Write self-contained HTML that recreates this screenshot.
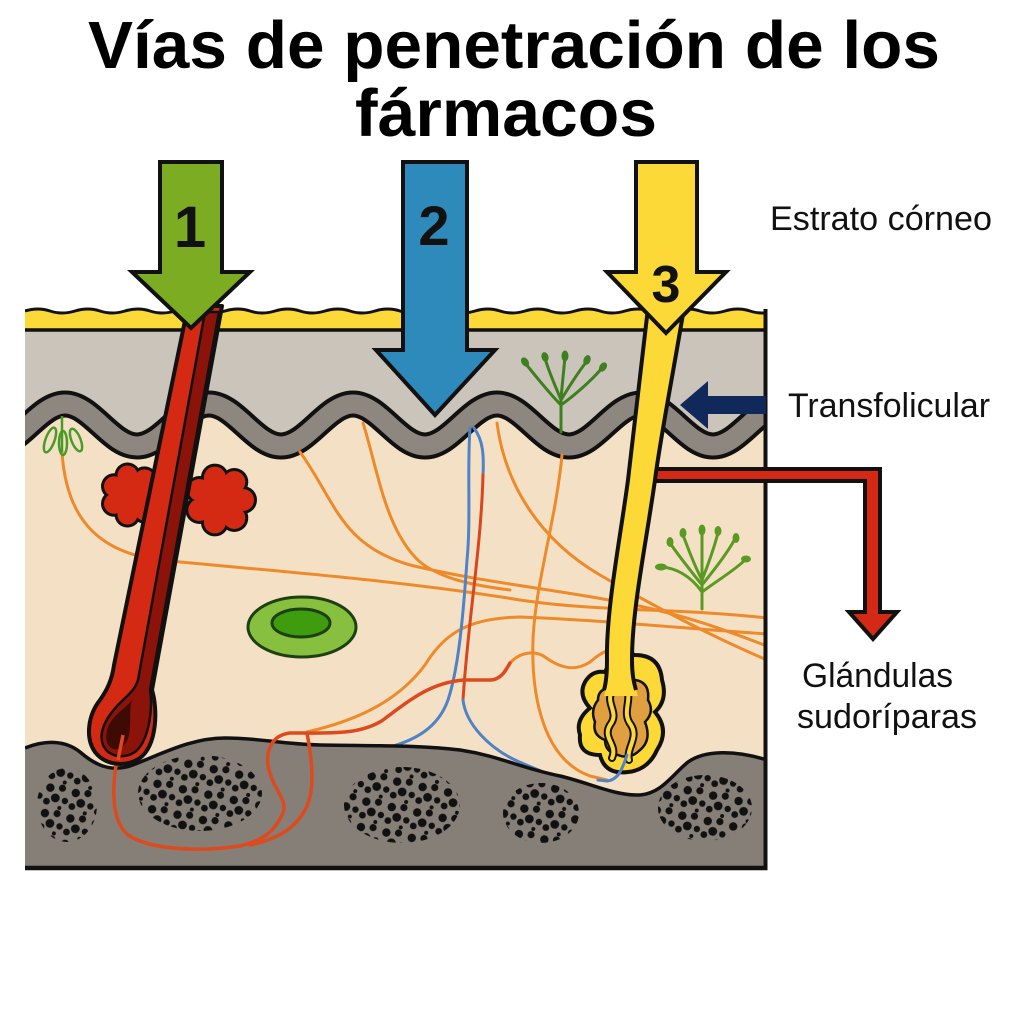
<!DOCTYPE html>
<html><head><meta charset="utf-8"><style>
html,body{margin:0;padding:0;background:#fff;}
svg{display:block;}
text{font-family:"Liberation Sans",Arial,sans-serif;}
</style></head><body>
<svg width="1024" height="1024" viewBox="0 0 1024 1024" xmlns="http://www.w3.org/2000/svg">
<defs>
<clipPath id="box"><rect x="25" y="300" width="742" height="570"/></clipPath>
<pattern id="dots" width="26" height="26" patternUnits="userSpaceOnUse" patternTransform="rotate(12)">
<circle cx="5" cy="6" r="4.2" fill="#111"/><circle cx="17" cy="4" r="3.6" fill="#111"/>
<circle cx="12" cy="15" r="4.4" fill="#111"/><circle cx="22" cy="16" r="3.2" fill="#111"/>
<circle cx="4" cy="20" r="3.4" fill="#111"/><circle cx="18" cy="24" r="2" fill="#111"/>
</pattern>
</defs>
<rect width="1024" height="1024" fill="#fff"/>

<!-- Title -->
<text x="514" y="68" font-size="67" font-weight="bold" text-anchor="middle" textLength="852" lengthAdjust="spacingAndGlyphs">Vías de penetración de los</text>
<text x="506" y="136" font-size="67" font-weight="bold" text-anchor="middle" textLength="302" lengthAdjust="spacingAndGlyphs">fármacos</text>

<g clip-path="url(#box)">
<rect x="25" y="326" width="742" height="550" fill="#f4e1c5"/>
<rect x="25" y="328" width="742" height="135" fill="#cbc4bb"/>
<path d="M -7 446 C 19 446 39 404 65 404 C 91 404 111 446 137 446 C 163 446 183 404 209 404 C 235 404 255 446 281 446 C 307 446 327 404 353 404 C 379 404 399 446 425 446 C 451 446 471 404 497 404 C 523 404 543 446 569 446 C 595 446 615 404 641 404 C 667 404 687 446 713 446 C 739 446 759 404 785 404 L 785 880 L -7 880 Z" fill="#f4e1c5"/>
<g fill="none">
<path d="M -7 446 C 19 446 39 404 65 404 C 91 404 111 446 137 446 C 163 446 183 404 209 404 C 235 404 255 446 281 446 C 307 446 327 404 353 404 C 379 404 399 446 425 446 C 451 446 471 404 497 404 C 523 404 543 446 569 446 C 595 446 615 404 641 404 C 667 404 687 446 713 446 C 739 446 759 404 785 404" stroke="#111" stroke-width="27"/>
<path d="M -7 446 C 19 446 39 404 65 404 C 91 404 111 446 137 446 C 163 446 183 404 209 404 C 235 404 255 446 281 446 C 307 446 327 404 353 404 C 379 404 399 446 425 446 C 451 446 471 404 497 404 C 523 404 543 446 569 446 C 595 446 615 404 641 404 C 667 404 687 446 713 446 C 739 446 759 404 785 404" stroke="#8d877f" stroke-width="19"/>
</g>

<!-- orange nerve lines -->
<g fill="none" stroke="#ee8a2a" stroke-width="3" stroke-linecap="round">
<path d="M 62 452 C 66 515, 95 552, 160 560 C 260 570, 400 580, 520 600 C 600 612, 680 608, 767 618"/>
<path d="M 300 452 C 335 500, 340 545, 410 565 C 480 582, 560 590, 625 603 C 690 616, 730 632, 767 646"/>
<path d="M 363 423 C 378 470, 385 530, 420 562 C 440 578, 470 585, 510 590"/>
<path d="M 497 423 C 505 485, 540 540, 600 575 C 660 610, 720 640, 767 660"/>
<path d="M 562 455 C 556 520, 535 585, 533 640 C 531 700, 545 760, 590 776 L 607 780"/>
<path d="M 307 732 C 350 722, 395 705, 425 665 C 445 632, 470 618, 520 617 C 600 620, 680 628, 767 634"/>
<path d="M 510 663 C 520 652, 535 650, 545 657 C 560 668, 575 672, 590 662 C 596 657, 602 652, 610 650"/>
</g>
<!-- blue / red vessels -->
<g fill="none" stroke-width="3" stroke-linecap="round">
<path d="M 470 428 C 467 470, 471 520, 467 560 C 463 620, 458 670, 448 700 C 438 728, 415 740, 390 747" stroke="#4f82c6"/>
<path d="M 474 428 C 483 440, 484 455, 483 475" stroke="#4f82c6"/>
<path d="M 483 475 C 481 550, 468 620, 463 700" stroke="#d9461e"/>
<path d="M 463 700 C 466 725, 490 748, 515 760 C 530 767, 540 770, 545 773" stroke="#4f82c6"/>
</g>

<!-- green plants -->
<g fill="none" stroke="#3f7f1f" stroke-width="3" stroke-linecap="round">
<path d="M 561 432 L 561 398"/>
<path d="M 561 405 C 548 392, 535 375, 525 363"/>
<path d="M 561 400 C 555 385, 548 370, 545 358"/>
<path d="M 561 398 L 565 357"/>
<path d="M 561 400 C 570 385, 580 370, 587 361"/>
<path d="M 561 405 C 575 395, 592 380, 602 368"/>
</g>
<g fill="#3f7f1f">
<ellipse cx="525" cy="362" rx="3.5" ry="5" transform="rotate(-35 525 362)"/>
<ellipse cx="545" cy="357" rx="3.5" ry="5" transform="rotate(-15 545 357)"/>
<ellipse cx="565" cy="356" rx="3.5" ry="5.5"/>
<ellipse cx="587" cy="360" rx="3.5" ry="5" transform="rotate(20 587 360)"/>
<ellipse cx="603" cy="367" rx="3.5" ry="5" transform="rotate(35 603 367)"/>
</g>
<g fill="none" stroke="#5a9a23" stroke-width="3" stroke-linecap="round">
<path d="M 702 609 L 702 532"/>
<path d="M 702 592 C 690 575, 675 568, 662 567"/>
<path d="M 702 585 C 690 570, 678 555, 670 543"/>
<path d="M 702 580 C 694 565, 688 548, 683 535"/>
<path d="M 702 580 C 708 565, 714 548, 718 533"/>
<path d="M 702 585 C 714 570, 726 555, 735 539"/>
<path d="M 702 592 C 718 580, 735 570, 745 560"/>
</g>
<g fill="#5a9a23">
<ellipse cx="661" cy="567" rx="6" ry="3.5"/>
<ellipse cx="670" cy="542" rx="3.5" ry="5"/>
<ellipse cx="683" cy="533" rx="3.5" ry="5"/>
<ellipse cx="702" cy="530" rx="3.5" ry="5.5"/>
<ellipse cx="718" cy="531" rx="3.5" ry="5"/>
<ellipse cx="736" cy="538" rx="3.5" ry="5"/>
<ellipse cx="746" cy="559" rx="5" ry="3.5"/>
</g>
<g fill="none" stroke="#4a9a28" stroke-width="2.5">
<path d="M 62 416 L 62 452"/>
<ellipse cx="50" cy="440" rx="4.5" ry="13" transform="rotate(20 50 440)"/>
<ellipse cx="63" cy="443" rx="4" ry="12"/>
<ellipse cx="76" cy="440" rx="4.5" ry="12" transform="rotate(-22 76 440)"/>
</g>

<!-- hypodermis -->
<path d="M 25 748 C 45 740, 65 740, 80 752 C 95 765, 110 772, 130 766 C 160 755, 190 738, 225 738 C 260 738, 280 744, 320 745 C 380 746, 420 745, 460 750 C 500 756, 520 768, 560 776 C 590 783, 615 796, 640 795 C 662 793, 672 775, 688 762 C 705 750, 735 750, 767 760 L 767 875 L 25 875 Z" fill="#857f78"/>
<path d="M 25 748 C 45 740, 65 740, 80 752 C 95 765, 110 772, 130 766 C 160 755, 190 738, 225 738 C 260 738, 280 744, 320 745 C 380 746, 420 745, 460 750 C 500 756, 520 768, 560 776 C 590 783, 615 796, 640 795 C 662 793, 672 775, 688 762 C 705 750, 735 750, 767 760" fill="none" stroke="#111" stroke-width="3.5"/>
<ellipse cx="67" cy="805" rx="30" ry="37" fill="url(#dots)"/>
<ellipse cx="200" cy="793" rx="62" ry="38" fill="url(#dots)"/>
<ellipse cx="402" cy="805" rx="58" ry="38" fill="url(#dots)"/>
<ellipse cx="541" cy="813" rx="38" ry="30" fill="url(#dots)"/>
<ellipse cx="705" cy="808" rx="47" ry="33" fill="url(#dots)"/>

<!-- red vessels in hypodermis -->
<g fill="none" stroke="#dc4a1e" stroke-width="3.5" stroke-linecap="round">
<path d="M 510 663 C 505 672, 500 680, 490 680 L 463 680 C 430 683, 410 700, 383 720 C 360 735, 330 733, 290 733 C 272 735, 266 750, 268 765 C 272 790, 290 800, 282 815 C 275 830, 265 840, 240 846 C 200 852, 150 850, 128 835 C 110 820, 110 780, 123 735"/>
<path d="M 307 733 C 312 760, 316 790, 305 810 C 295 828, 280 838, 250 845"/>
</g>

<!-- green cell -->
<ellipse cx="302" cy="627" rx="54" ry="30" fill="#86c03e" stroke="#1e4010" stroke-width="3"/>
<ellipse cx="301" cy="623" rx="29" ry="14" fill="#3e9c0e" stroke="#1e4010" stroke-width="3"/>

<!-- sebaceous glands -->
<g fill="#111">
<circle cx="132" cy="495" r="23"/><circle cx="152" cy="495" r="13"/><circle cx="144.5" cy="510.6" r="13"/><circle cx="127.5" cy="514.5" r="13"/><circle cx="114" cy="503.7" r="13"/><circle cx="114" cy="486.3" r="13"/><circle cx="127.5" cy="475.5" r="13"/><circle cx="144.5" cy="479.4" r="13"/>
<circle cx="220" cy="500" r="26"/><circle cx="243" cy="500" r="14"/><circle cx="234.3" cy="518" r="14"/><circle cx="214.9" cy="522.4" r="14"/><circle cx="199.3" cy="510" r="14"/><circle cx="199.3" cy="490" r="14"/><circle cx="214.9" cy="477.6" r="14"/><circle cx="234.3" cy="482" r="14"/>
</g>
<g fill="#d42a14">
<circle cx="132" cy="495" r="20"/><circle cx="152" cy="495" r="10"/><circle cx="144.5" cy="510.6" r="10"/><circle cx="127.5" cy="514.5" r="10"/><circle cx="114" cy="503.7" r="10"/><circle cx="114" cy="486.3" r="10"/><circle cx="127.5" cy="475.5" r="10"/><circle cx="144.5" cy="479.4" r="10"/>
<circle cx="220" cy="500" r="23"/><circle cx="243" cy="500" r="11"/><circle cx="234.3" cy="518" r="11"/><circle cx="214.9" cy="522.4" r="11"/><circle cx="199.3" cy="510" r="11"/><circle cx="199.3" cy="490" r="11"/><circle cx="214.9" cy="477.6" r="11"/><circle cx="234.3" cy="482" r="11"/>
</g>

<!-- stratum corneum -->
<path d="M 25 311 Q 38 307 50 311 T 75 311 T 100 311 T 125 311 T 150 311 T 175 311 T 200 311 T 225 311 T 250 311 T 275 311 T 300 311 T 325 311 T 350 311 T 375 311 T 400 311 T 425 311 T 450 311 T 475 311 T 500 311 T 525 311 T 550 311 T 575 311 T 600 311 T 625 311 T 650 311 T 675 311 T 700 311 T 725 311 T 750 311 T 775 311 L 775 330 L 25 330 Z" fill="#fcd936"/>
<path d="M 25 311 Q 38 307 50 311 T 75 311 T 100 311 T 125 311 T 150 311 T 175 311 T 200 311 T 225 311 T 250 311 T 275 311 T 300 311 T 325 311 T 350 311 T 375 311 T 400 311 T 425 311 T 450 311 T 475 311 T 500 311 T 525 311 T 550 311 T 575 311 T 600 311 T 625 311 T 650 311 T 675 311 T 700 311 T 725 311 T 750 311 T 775 311" fill="none" stroke="#111" stroke-width="3"/>
<line x1="25" y1="330" x2="767" y2="330" stroke="#111" stroke-width="3.5"/>
</g>

<!-- box borders -->
<line x1="765.5" y1="309" x2="765.5" y2="870" stroke="#111" stroke-width="4"/>
<line x1="25" y1="868" x2="767.5" y2="868" stroke="#111" stroke-width="4.5"/>

<!-- hair follicle -->
<path d="M 188 306 L 222 306 L 152 690 C 158 710, 157 745, 140 758 C 125 768, 105 765, 95 752 C 85 738, 88 715, 100 700 C 107 690, 112 680, 114 665 Z" fill="#d42a14" stroke="#111" stroke-width="4" stroke-linejoin="round"/>
<path d="M 205 312 L 219 312 L 150 690 C 153 705, 150 740, 135 752 C 122 760, 108 756, 103 745 C 98 732, 106 718, 118 705 C 128 695, 135 690, 138 680 Z" fill="#8c1309" stroke="#111" stroke-width="2.5" stroke-linejoin="round"/>
<path d="M 132 700 C 127 715, 136 740, 119 749 C 106 752, 103 736, 110 723 C 117 712, 126 708, 132 700 Z" fill="#3d0a04"/>
<path d="M 123 735 L 118 760" stroke="#dc4a1e" stroke-width="3.5" fill="none"/>

<!-- red arrow glandulas -->
<path d="M 655 469 L 880 469 L 880 612 L 897 612 L 873 639 L 849 612 L 865 612 L 865 481 L 655 481 Z" fill="#d42a15" stroke="#111" stroke-width="4" stroke-linejoin="miter"/>

<!-- sweat gland -->
<path d="M 605 672 Q 615 650 635 655 Q 660 655 662 680 Q 668 700 655 712 Q 670 730 657 750 Q 648 770 628 772 Q 605 775 600 755 Q 578 755 580 735 Q 575 720 590 708 Q 578 695 585 682 Q 592 670 605 672 Z" fill="#fcd936" stroke="#111" stroke-width="4"/>
<path d="M 608 688 Q 620 675 635 680 Q 650 682 648 700 Q 655 712 645 722 Q 652 740 640 750 Q 630 760 618 755 Q 605 752 605 740 Q 592 735 595 722 Q 590 710 598 700 Q 598 690 608 688 Z" fill="#e0a040" stroke="#111" stroke-width="2.5"/>
<g fill="none" stroke-linecap="round">
<path d="M 612 690 C 605 705, 620 712, 610 725 C 602 738, 618 745, 612 758" stroke="#111" stroke-width="8"/>
<path d="M 626 688 C 633 700, 621 712, 631 725 C 639 738, 626 748, 629 760" stroke="#111" stroke-width="8"/>
<path d="M 612 690 C 605 705, 620 712, 610 725 C 602 738, 618 745, 612 758" stroke="#fcd936" stroke-width="4"/>
<path d="M 626 688 C 633 700, 621 712, 631 725 C 639 738, 626 748, 629 760" stroke="#fcd936" stroke-width="4"/>
<path d="M 627 755 C 622 770, 618 780, 607 781 L 598 780" stroke="#4f82c6" stroke-width="3"/>
</g>

<!-- sweat duct -->
<path d="M 648 308 L 684 308 C 672 380, 660 440, 655 480 C 645 550, 632 610, 632 660 C 632 680, 636 690, 638 696 L 604 696 C 606 690, 608 680, 607 660 C 606 610, 620 540, 628 480 C 635 420, 642 360, 648 308 Z" fill="#fcd936"/>
<path d="M 684 308 C 672 380, 660 440, 655 480 C 645 550, 632 610, 632 660 C 632 675, 634 683, 636 690" fill="none" stroke="#111" stroke-width="4"/>
<path d="M 648 308 C 642 360, 635 420, 628 480 C 620 540, 606 610, 607 660 C 607 675, 606 683, 604 690" fill="none" stroke="#111" stroke-width="4"/>

<!-- navy arrow -->
<path d="M 680 405 L 708 381 L 708 396 L 766 396 L 766 414 L 708 414 L 708 429 Z" fill="#10285a"/>

<!-- big arrows -->
<path d="M 160 162 L 222 162 L 222 272 L 250 272 L 191 328 L 132 272 L 160 272 Z" fill="#7cac22" stroke="#111" stroke-width="4" stroke-linejoin="miter"/>
<path d="M 403 162 L 467 162 L 467 350 L 495 350 L 435 415 L 376 350 L 403 350 Z" fill="#2d8abb" stroke="#111" stroke-width="4" stroke-linejoin="miter"/>
<path d="M 636 162 L 697 162 L 697 272 L 726 272 L 666 333 L 607 272 L 636 272 Z" fill="#fcd936" stroke="#111" stroke-width="4" stroke-linejoin="miter"/>
<text x="190" y="247" font-size="58" font-weight="bold" text-anchor="middle" fill="#111">1</text>
<text x="434" y="245" font-size="56" font-weight="bold" text-anchor="middle" fill="#111">2</text>
<text x="666" y="302" font-size="52" font-weight="bold" text-anchor="middle" fill="#111">3</text>

<!-- labels -->
<text x="770" y="230" font-size="34" fill="#111" textLength="222" lengthAdjust="spacingAndGlyphs">Estrato córneo</text>
<text x="788" y="417" font-size="34" fill="#111" textLength="202" lengthAdjust="spacingAndGlyphs">Transfolicular</text>
<text x="802" y="687" font-size="34" fill="#111" textLength="151" lengthAdjust="spacingAndGlyphs">Glándulas</text>
<text x="797" y="728" font-size="34" fill="#111" textLength="180" lengthAdjust="spacingAndGlyphs">sudoríparas</text>
</svg>
</body></html>
